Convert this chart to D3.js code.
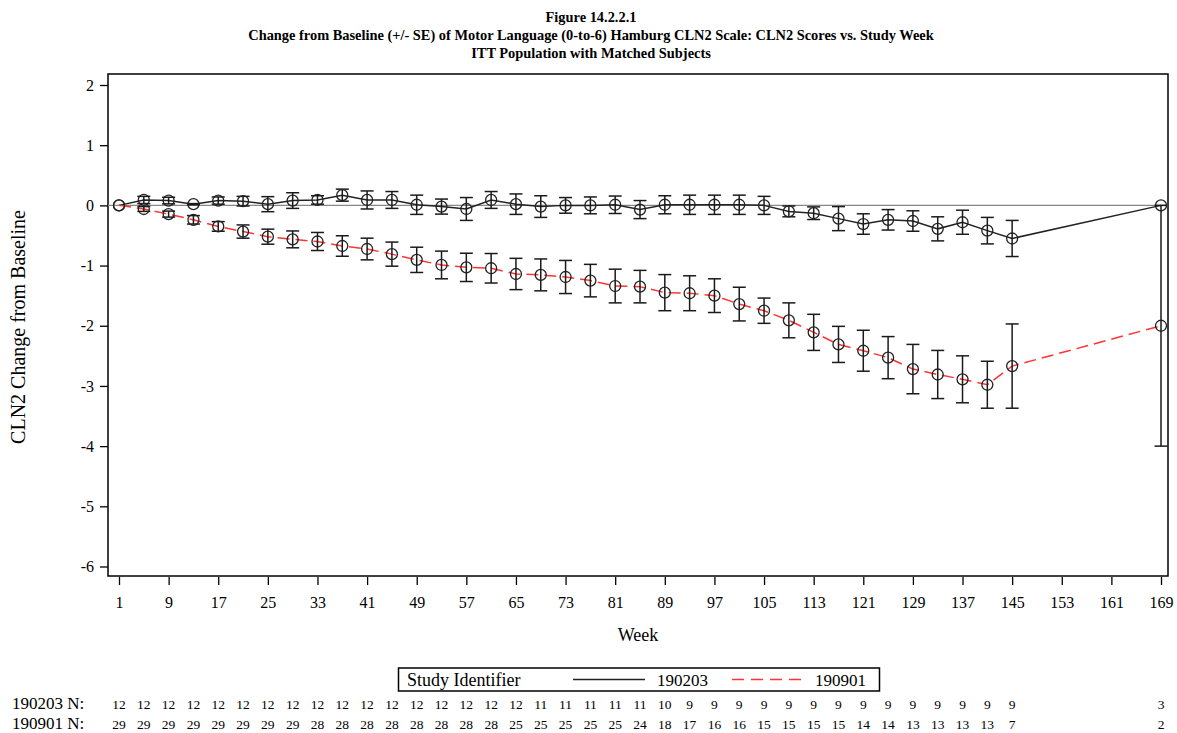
<!DOCTYPE html>
<html>
    <head>
        <meta charset="utf-8">
        <script src="https://d3js.org/d3.v7.min.js"></script>
        <style>
            body { margin: 0; background: #fff; }
            text { font-family: "Liberation Serif", "Times New Roman", serif; fill: #000; }
        </style>
    </head>
    <body>
        <script>

        // study weeks where each group was assessed
        var weeks = [1, 5, 9, 13, 17, 21, 25, 29, 33, 37, 41, 45, 49, 53, 57, 61, 65, 69, 73,
                     77, 81, 85, 89, 93, 97, 101, 105, 109, 113, 117, 121, 125, 129, 133, 137, 141, 145, 169];

        // 190203: mean change from baseline and SE
        var mean190203 = [0, 0.09, 0.08, 0.02, 0.08, 0.07, 0.02, 0.08, 0.09, 0.17, 0.09, 0.09, 0.01, -0.02, -0.06, 0.09, 0.02, -0.02, 0,
                          0, 0.01, -0.07, 0.01, 0.01, 0.01, 0.01, 0, -0.1, -0.13, -0.22, -0.31, -0.24, -0.26, -0.39, -0.28, -0.42, -0.55, 0];
        var se190203 = [0, 0.06, 0.055, 0.01, 0.06, 0.08, 0.125, 0.13, 0.07, 0.1, 0.15, 0.14, 0.16, 0.125, 0.19, 0.14, 0.17, 0.18, 0.13,
                        0.14, 0.145, 0.15, 0.15, 0.16, 0.16, 0.16, 0.15, 0.09, 0.105, 0.2, 0.17, 0.17, 0.17, 0.2, 0.2, 0.22, 0.3, 0];

        // 190901: mean change from baseline and SE
        var mean190901 = [0, -0.06, -0.145, -0.24, -0.35, -0.435, -0.52, -0.565, -0.6, -0.675, -0.725, -0.81, -0.905, -0.99, -1.03, -1.045, -1.14, -1.155, -1.19,
                          -1.25, -1.34, -1.35, -1.45, -1.46, -1.5, -1.64, -1.75, -1.91, -2.11, -2.31, -2.415, -2.53, -2.72, -2.81, -2.89, -2.98, -2.67, -2.0];
        var se190901 = [0, 0.04, 0.05, 0.07, 0.08, 0.11, 0.125, 0.14, 0.15, 0.17, 0.18, 0.2, 0.21, 0.23, 0.235, 0.245, 0.26, 0.265, 0.275,
                        0.27, 0.28, 0.27, 0.3, 0.29, 0.28, 0.28, 0.21, 0.29, 0.3, 0.3, 0.34, 0.35, 0.41, 0.4, 0.39, 0.39, 0.7, 2.0];

        // subjects at each week
        var n190203 = [12, 12, 12, 12, 12, 12, 12, 12, 12, 12, 12, 12, 12, 12, 12, 12, 12, 11, 11,
                       11, 11, 11, 10, 9, 9, 9, 9, 9, 9, 9, 9, 9, 9, 9, 9, 9, 9, 3];
        var n190901 = [29, 29, 29, 29, 29, 29, 29, 29, 28, 28, 28, 28, 28, 28, 28, 28, 25, 25, 25,
                       25, 25, 24, 18, 17, 16, 16, 15, 15, 15, 15, 14, 14, 13, 13, 13, 13, 7, 2];

        var xTicks = [1, 9, 17, 25, 33, 41, 49, 57, 65, 73, 81, 89, 97, 105, 113, 121, 129, 137, 145, 153, 161, 169];
        var yTicks = [2, 1, 0, -1, -2, -3, -4, -5, -6];

        var titles = ["Figure 14.2.2.1",
                      "Change from Baseline (+/- SE) of Motor Language (0-to-6) Hamburg CLN2 Scale: CLN2 Scores vs. Study Week",
                      "ITT Population with Matched Subjects"];

        var width = 1177, height = 733;
        var frame = {left: 108, right: 1168, top: 74, bottom: 576};

        var svg = d3.select("body").append("svg")
            .attr("width", width)
            .attr("height", height);

        svg.append("rect")
            .attr("width", width)
            .attr("height", height)
            .attr("fill", "#fff");

        var x = d3.scaleLinear()
            .domain([1, 169])
            .range([119, 1161]);

        var y = d3.scaleLinear()
            .domain([2, -6])
            .range([85, 566.5]);

        // titles
        svg.selectAll(".title")
            .data(titles)
            .enter().append("text")
            .attr("class", "title")
            .attr("x", 591)
            .attr("y", function(d, i) { return 22 + i * 18; })
            .attr("text-anchor", "middle")
            .attr("font-weight", "bold")
            .attr("font-size", "14.4px")
            .text(function(d) { return d; });

        // y axis
        var yAxis = svg.append("g")
            .attr("transform", "translate(" + frame.left + ",0)")
            .call(d3.axisLeft(y).tickValues(yTicks).tickSize(8).tickPadding(6));
        yAxis.select(".domain").remove();
        yAxis.selectAll("line").attr("stroke", "#000").attr("stroke-width", 1.3);
        yAxis.selectAll("text")
            .attr("font-size", "16px")
            .attr("font-family", "Liberation Serif, serif")
            .text(function(d) { return d < 0 ? "-" + Math.abs(d) : d; });

        // x axis
        var xAxis = svg.append("g")
            .attr("transform", "translate(0," + (frame.bottom + 1) + ")")
            .call(d3.axisBottom(x).tickValues(xTicks).tickSize(8).tickPadding(12));
        xAxis.select(".domain").remove();
        xAxis.selectAll("line").attr("stroke", "#000").attr("stroke-width", 1.3);
        xAxis.selectAll("text")
            .attr("font-size", "16px")
            .attr("font-family", "Liberation Serif, serif");

        // plot frame
        svg.append("rect")
            .attr("x", frame.left)
            .attr("y", frame.top)
            .attr("width", frame.right - frame.left)
            .attr("height", frame.bottom - frame.top)
            .attr("fill", "none")
            .attr("stroke", "#000")
            .attr("stroke-width", 1.5);

        // axis titles
        svg.append("text")
            .attr("transform", "translate(25," + 327 + ") rotate(-90)")
            .attr("text-anchor", "middle")
            .attr("font-size", "20px")
            .text("CLN2 Change from Baseline");

        svg.append("text")
            .attr("x", (frame.left + frame.right) / 2)
            .attr("y", 641)
            .attr("text-anchor", "middle")
            .attr("font-size", "18px")
            .text("Week");

        // zero reference line
        svg.append("line")
            .attr("x1", frame.left)
            .attr("x2", frame.right)
            .attr("y1", y(0))
            .attr("y2", y(0))
            .attr("stroke", "#888")
            .attr("stroke-width", 1.2);

        var series = [
            {name: "190203", mean: mean190203, se: se190203, color: "#222", dash: null},
            {name: "190901", mean: mean190901, se: se190901, color: "#ff3333", dash: "12,6"}
        ];

        var line = d3.line()
            .x(function(d) { return x(d.week); })
            .y(function(d) { return y(d.mean); });

        series.forEach(function(s) {
            var pts = weeks.map(function(w, i) { return {week: w, mean: s.mean[i], se: s.se[i]}; });

            svg.append("path")
                .datum(pts)
                .attr("fill", "none")
                .attr("stroke", s.color)
                .attr("stroke-width", 1.5)
                .attr("stroke-dasharray", s.dash)
                .attr("d", line);

            var bars = svg.append("g")
                .selectAll("g")
                .data(pts.filter(function(d) { return d.se > 0; }))
                .enter().append("g")
                .attr("stroke", "#1a1a1a")
                .attr("stroke-width", 1.5);

            bars.append("line")
                .attr("x1", function(d) { return x(d.week); })
                .attr("x2", function(d) { return x(d.week); })
                .attr("y1", function(d) { return y(d.mean + d.se); })
                .attr("y2", function(d) { return y(d.mean - d.se); });

            bars.selectAll(".cap")
                .data(function(d) { return [[d.week, d.mean + d.se], [d.week, d.mean - d.se]]; })
                .enter().append("line")
                .attr("class", "cap")
                .attr("x1", function(d) { return x(d[0]) - 6.5; })
                .attr("x2", function(d) { return x(d[0]) + 6.5; })
                .attr("y1", function(d) { return y(d[1]); })
                .attr("y2", function(d) { return y(d[1]); });

            svg.append("g")
                .selectAll("circle")
                .data(pts)
                .enter().append("circle")
                .attr("cx", function(d) { return x(d.week); })
                .attr("cy", function(d) { return y(d.mean); })
                .attr("r", 5.5)
                .attr("fill", "none")
                .attr("stroke", "#222")
                .attr("stroke-width", 1.3);
        });

        // legend
        var lg = svg.append("g");
        lg.append("rect")
            .attr("x", 398.5)
            .attr("y", 668)
            .attr("width", 481)
            .attr("height", 23)
            .attr("fill", "#fff")
            .attr("stroke", "#000")
            .attr("stroke-width", 1.5);
        lg.append("text")
            .attr("x", 407)
            .attr("y", 686)
            .attr("font-size", "18px")
            .text("Study Identifier");
        lg.append("line")
            .attr("x1", 573).attr("x2", 645)
            .attr("y1", 679.5).attr("y2", 679.5)
            .attr("stroke", "#222").attr("stroke-width", 1.5);
        lg.append("text")
            .attr("x", 657)
            .attr("y", 686)
            .attr("font-size", "17px")
            .text("190203");
        lg.append("line")
            .attr("x1", 732).attr("x2", 803)
            .attr("y1", 679.5).attr("y2", 679.5)
            .attr("stroke", "#ff3333").attr("stroke-width", 1.5)
            .attr("stroke-dasharray", "12,7");
        lg.append("text")
            .attr("x", 815)
            .attr("y", 686)
            .attr("font-size", "17px")
            .text("190901");

        // subject counts under the chart
        var nRows = [{label: "190203 N:", n: n190203, y: 709}, {label: "190901 N:", n: n190901, y: 729}];
        nRows.forEach(function(r) {
            svg.append("text")
                .attr("x", 12)
                .attr("y", r.y)
                .attr("font-size", "17px")
                .text(r.label);
            svg.append("g")
                .selectAll("text")
                .data(r.n)
                .enter().append("text")
                .attr("x", function(d, i) { return x(weeks[i]); })
                .attr("y", r.y)
                .attr("text-anchor", "middle")
                .attr("font-size", "13.5px")
                .text(function(d) { return d; });
        });

        </script>
    </body>
</html>
